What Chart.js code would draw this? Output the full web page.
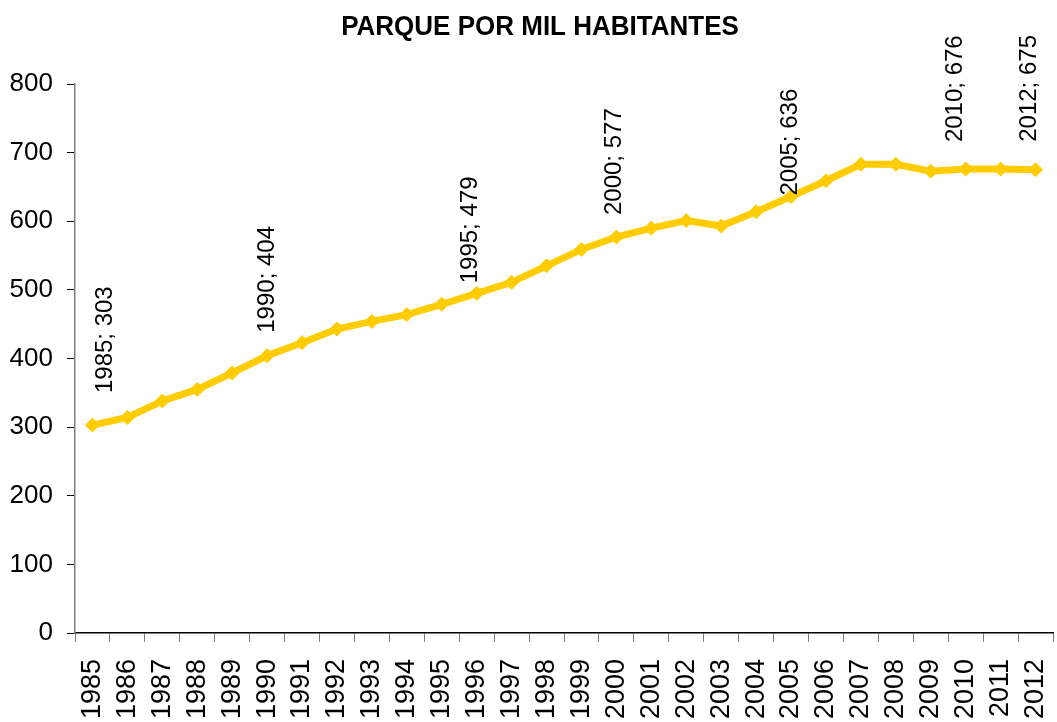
<!DOCTYPE html>
<html>
<head>
<meta charset="utf-8">
<script src="https://cdn.jsdelivr.net/npm/chart.js@4.4.1/dist/chart.umd.min.js"></script>
<style>
  html, body { margin: 0; padding: 0; background: #fff; overflow: hidden; }
  canvas { display: block; }
</style>
</head>
<body>
<canvas id="chart-parque" width="1061" height="722"></canvas>
<script>
const years = ["1985", "1986", "1987", "1988", "1989", "1990", "1991", "1992", "1993", "1994",
  "1995", "1996", "1997", "1998", "1999", "2000", "2001", "2002", "2003", "2004",
  "2005", "2006", "2007", "2008", "2009", "2010", "2011", "2012"]
const parque = [303, 314, 338, 355, 379, 404, 423, 443, 454, 464,
  479, 495, 511, 535, 559, 577, 590, 601, 593, 614,
  636, 659, 683, 683, 673, 676, 676, 675]
const labeledYears = ["1985", "1990", "1995", "2000", "2005", "2010", "2012"]
const yTicks = [0, 100, 200, 300, 400, 500, 600, 700, 800]
const title = "PARQUE POR MIL HABITANTES"

const font = '"Liberation Sans", Arial, sans-serif'
const gold = "#FFCC00"

// label nudges (px) from the point, as placed in the original
const labelNudge = {
  "1985": [13, -32], "1990": [0, -23], "1995": [29, -21], "2000": [-2, -22],
  "2005": [-1, -1], "2010": [-10, -27], "2012": [-6, -28]
}

const extras = {
  id: "extras",
  afterDatasetsDraw(chart) {
    const ctx = chart.ctx
    const meta = chart.getDatasetMeta(0)
    ctx.save()
    ctx.fillStyle = "#000"
    ctx.font = "24px " + font
    ctx.textAlign = "left"
    ctx.textBaseline = "middle"
    labeledYears.forEach(year => {
      const i = years.indexOf(year)
      const pt = meta.data[i]
      const [dx, dy] = labelNudge[year]
      ctx.save()
      ctx.translate(pt.x + dx, pt.y + dy)
      ctx.rotate(-Math.PI / 2)
      ctx.fillText(year + "; " + parque[i], 0, 0)
      ctx.restore()
    })
    // title, a bit taller than wide like the original
    ctx.font = "bold 26px " + font
    ctx.textAlign = "center"
    ctx.translate(540, 27)
    ctx.scale(1, 1.08)
    ctx.fillText(title, 0, 0)
    ctx.restore()
  }
}

new Chart(document.getElementById("chart-parque"), {
  type: "line",
  data: {
    labels: years,
    datasets: [{
      data: parque,
      borderColor: gold,
      backgroundColor: gold,
      borderWidth: 7,
      pointStyle: "rectRot",
      pointRadius: 7,
      pointBorderWidth: 1,
      pointBackgroundColor: gold,
      pointBorderColor: gold,
      tension: 0
    }]
  },
  options: {
    responsive: false,
    animation: false,
    layout: { padding: { top: 84, right: 0, bottom: 0, left: 0 } },
    plugins: {
      legend: { display: false },
      tooltip: { enabled: false },
      title: { display: false }
    },
    scales: {
      x: {
        offset: true,
        grid: { drawOnChartArea: false, drawTicks: true, tickLength: 9, color: "#808080", offset: true },
        border: { color: "#000", width: 1.5 },
        ticks: {
          autoSkip: false, minRotation: 90, maxRotation: 90, padding: 17,
          color: "#000", font: { size: 27, family: font }
        },
        afterFit(scale) {
          scale.height = 89
          scale.paddingLeft = 0
          scale.paddingRight = 0
        }
      },
      y: {
        min: 0,
        max: 800,
        afterBuildTicks(scale) {
          scale.ticks = yTicks.map(v => ({ value: v }))
        },
        grid: { drawOnChartArea: false, drawTicks: true, tickLength: 8, color: "#000" },
        border: { color: "#808080", width: 1.5 },
        ticks: { padding: 14, color: "#000", font: { size: 26, family: font } },
        afterFit(scale) {
          scale.width = 75
        }
      }
    }
  },
  plugins: [extras]
})
</script>
</body>
</html>
